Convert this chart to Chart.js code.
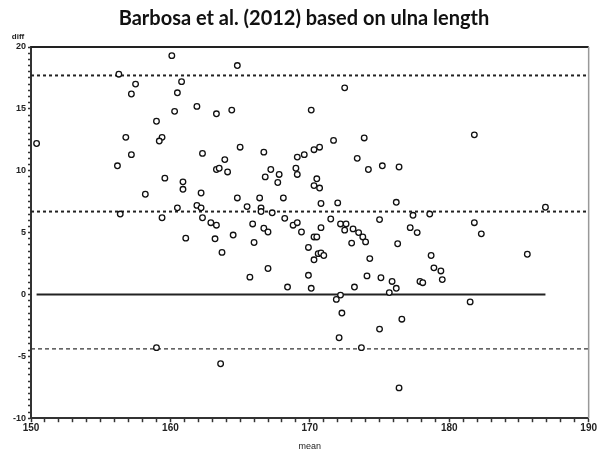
<!DOCTYPE html>
<html>
<head>
<meta charset="utf-8">
<script src="https://cdn.jsdelivr.net/npm/chart.js@4/dist/chart.umd.min.js"></script>
<style>
    html, body { margin: 0; padding: 0; background: #fff; }
    #wrap { width: 597px; height: 459px; }
</style>
</head>
<body>
<div id="wrap"><canvas id="baChart"></canvas></div>
<script>

const means = [
    150.4, 160.1, 156.3, 157.5, 157.2, 160.8, 160.5, 160.3, 159.0, 156.8,
    159.4, 159.2, 157.2, 156.2, 159.6, 160.9, 160.9, 158.2, 160.5, 156.4,
    159.4, 161.9, 163.3, 164.4, 170.1, 165.0, 162.3, 166.7, 163.9, 163.3,
    163.5, 164.1, 169.1, 169.6, 170.3, 170.7, 167.2, 166.8, 167.8, 167.7,
    169.0, 169.1, 170.5, 170.3, 170.7, 162.2, 164.8, 166.4, 168.1, 170.8,
    161.9, 162.2, 165.5, 166.5, 166.5, 167.3, 162.3, 162.9, 163.3, 165.9,
    166.7, 167.0, 168.2, 168.8, 169.1, 169.4, 170.8, 161.1, 163.2, 164.5,
    166.0, 163.7, 170.3, 170.5, 169.9, 170.6, 170.8, 171.0, 170.3, 172.5,
    171.7, 173.9, 173.4, 174.2, 175.2, 176.4, 172.0, 176.2, 171.5, 175.0,
    177.4, 178.6, 172.2, 172.6, 172.5, 173.1, 173.5, 173.8, 174.0, 173.0,
    177.2, 177.7, 176.3, 174.3, 178.7, 181.8, 182.3, 185.6, 186.9, 179.4,
    179.5, 181.5, 181.8, 165.7, 167.0, 168.4, 170.1, 169.9, 159.0, 163.6,
    174.1, 173.2, 172.2, 171.9, 172.3, 172.1, 173.7, 175.1, 175.0, 175.9,
    175.7, 176.2, 176.6, 176.4, 178.9, 177.9, 178.1, 164.8
];

const diffs = [
    12.2, 19.3, 17.8, 17.0, 16.2, 17.2, 16.3, 14.8, 14.0, 12.7,
    12.7, 12.4, 11.3, 10.4, 9.4, 9.1, 8.5, 8.1, 7.0, 6.5,
    6.2, 15.2, 14.6, 14.9, 14.9, 11.9, 11.4, 11.5, 10.9, 10.1,
    10.2, 9.9, 11.1, 11.3, 11.7, 11.9, 10.1, 9.5, 9.7, 9.05,
    10.2, 9.7, 9.35, 8.8, 8.6, 8.2, 7.8, 7.8, 7.8, 7.35,
    7.2, 7.0, 7.1, 7.0, 6.7, 6.6, 6.2, 5.8, 5.6, 5.7,
    5.35, 5.05, 6.15, 5.6, 5.8, 5.05, 5.4, 4.55, 4.5, 4.8,
    4.2, 3.4, 4.65, 4.65, 3.8, 3.3, 3.35, 3.15, 2.8, 16.7,
    12.45, 12.65, 11.0, 10.1, 10.4, 10.3, 7.4, 7.45, 6.1, 6.05,
    6.4, 6.5, 5.7, 5.7, 5.2, 5.3, 5.0, 4.65, 4.25, 4.15,
    5.4, 5.0, 4.1, 2.9, 3.15, 5.8, 4.9, 3.25, 7.05, 1.9,
    1.2, -0.6, 12.9, 1.4, 2.1, 0.6, 0.5, 1.55, -4.3, -5.6,
    1.5, 0.6, -0.05, -0.4, -1.5, -3.5, -4.3, 1.35, -2.8, 1.05,
    0.15, 0.5, -2.0, -7.55, 2.15, 1.05, 0.95, 18.5
];

const meanDiff = 6.7;
const upperLimit = 17.7;
const lowerLimit = -4.4;

const xTickLabels = [150, 160, 170, 180, 190];
const yTickLabels = [-10, -5, 0, 5, 10, 15, 20];

const xMin = 150;
const xMax = 190;

const points = means.map((m, i) => ({ x: m, y: diffs[i] }));

const dataMin = Math.min(...means);
const dataMax = Math.max(...means);

function hLine(y, x0, x1) {

    return [{ x: x0, y: y }, { x: x1, y: y }];

}

const framePlugin = {

    id: "frame",

    afterDraw(chart) {

        const ctx = chart.ctx;
        const a = chart.chartArea;

        ctx.save();

        ctx.strokeStyle = "#222";
        ctx.lineWidth = 2;
        ctx.beginPath();
        ctx.moveTo(a.left, a.top);
        ctx.lineTo(a.right, a.top);
        ctx.stroke();

        ctx.strokeStyle = "#999";
        ctx.lineWidth = 1.5;
        ctx.beginPath();
        ctx.moveTo(a.right, a.top);
        ctx.lineTo(a.right, a.bottom);
        ctx.stroke();

        ctx.fillStyle = "#222";
        ctx.font = "bold 8px 'Liberation Sans'";
        ctx.textAlign = "center";
        ctx.textBaseline = "middle";
        ctx.fillText("diff", 18, a.top - 10);

        ctx.restore();

    }

};

new Chart(document.getElementById("baChart"), {

    type: "scatter",

    data: {

        datasets: [

            {
                data: points,
                pointRadius: 2.8,
                pointBorderWidth: 1.3,
                pointBorderColor: "#111",
                pointBackgroundColor: "#fff",
                order: 0
            },

            {
                type: "line",
                data: hLine(0, dataMin, dataMax),
                borderColor: "#222",
                borderWidth: 2,
                pointRadius: 0,
                order: 1
            },

            {
                type: "line",
                data: hLine(meanDiff, xMin, xMax),
                borderColor: "#222",
                borderWidth: 2,
                borderDash: [3, 3],
                pointRadius: 0,
                order: 1
            },

            {
                type: "line",
                data: hLine(upperLimit, xMin, xMax),
                borderColor: "#222",
                borderWidth: 2,
                borderDash: [3, 3],
                pointRadius: 0,
                order: 1
            },

            {
                type: "line",
                data: hLine(lowerLimit, xMin, xMax),
                borderColor: "#333",
                borderWidth: 1.3,
                borderDash: [4, 3],
                pointRadius: 0,
                order: 1
            }

        ]

    },

    options: {

        responsive: true,

        maintainAspectRatio: false,

        animation: false,

        layout: {
            padding: { left: 11, right: 0, top: 0, bottom: 7 }
        },

        plugins: {

            legend: { display: false },

            tooltip: { enabled: false },

            title: {
                display: true,
                text: "Barbosa et al. (2012) based on ulna length",
                color: "#111",
                font: { family: "Lato", size: 20, weight: "bold" },
                padding: { top: 7, bottom: 16 }
            }

        },

        scales: {

            x: {

                type: "linear",

                min: xMin,

                max: xMax,

                border: { color: "#333", width: 2 },

                grid: {
                    drawOnChartArea: false,
                    tickLength: 4,
                    tickColor: "#333",
                    tickWidth: 1.5
                },

                ticks: {
                    stepSize: 1,
                    autoSkip: false,
                    maxRotation: 0,
                    color: "#222",
                    padding: 0,
                    font: { family: "Liberation Sans", size: 10, weight: "bold" },
                    callback: v => xTickLabels.includes(v) ? String(v) : ""
                },

                title: {
                    display: true,
                    text: "mean",
                    color: "#222",
                    font: { family: "Liberation Sans", size: 9 },
                    padding: { top: 7, bottom: 0 }
                }

            },

            y: {

                type: "linear",

                min: -10,

                max: 20,

                border: { color: "#333", width: 2 },

                grid: {
                    drawOnChartArea: false,
                    tickLength: 3,
                    tickColor: "#333",
                    tickWidth: 1.5
                },

                ticks: {
                    stepSize: 0.5,
                    autoSkip: false,
                    color: "#222",
                    padding: 2,
                    font: { family: "Liberation Sans", size: 9, weight: "bold" },
                    callback: v => yTickLabels.includes(v) ? String(v) : ""
                }

            }

        }

    },

    plugins: [framePlugin]

});

</script>
</body>
</html>
